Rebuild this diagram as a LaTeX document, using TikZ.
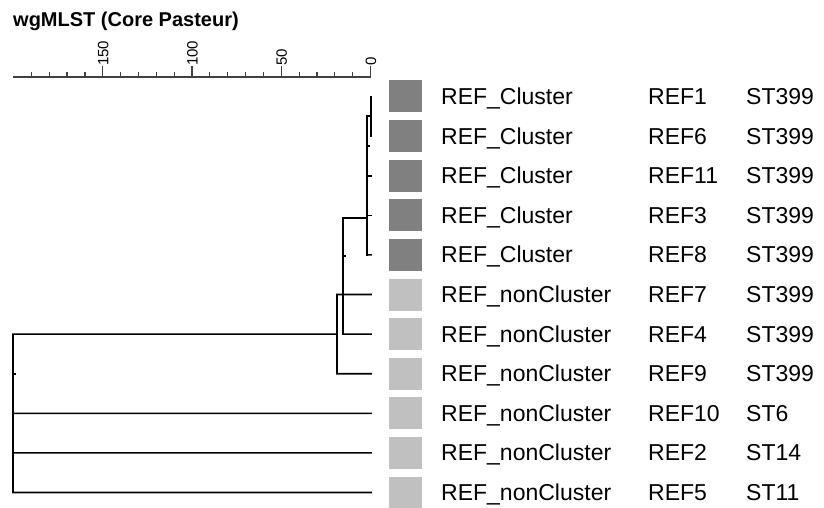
\documentclass[tikz,border=0pt]{standalone}
\usepackage{fontspec}
\setmainfont{Liberation Sans}
\definecolor{clusterdark}{HTML}{808080}
\definecolor{clusterlight}{HTML}{C0C0C0}
\tikzset{
  branch/.style={line width=1.6pt, draw=black, line cap=rect},
  axisline/.style={line width=1.2pt, draw=black!75},
  swatch/.style={minimum width=33pt, minimum height=32pt, inner sep=0pt, draw=none},
  rowtext/.style={anchor=base west, inner sep=0pt, font=\fontsize{23}{23}\selectfont},
  ticklabel/.style={anchor=west, rotate=90, inner sep=0pt, font=\fontsize{15}{15}\selectfont},
}
\begin{document}
\begin{tikzpicture}[x=1pt, y=-1pt]
\useasboundingbox (0,0) rectangle (824,508);

% title
\node[anchor=base west, inner sep=0pt, font=\bfseries\fontsize{20}{20}\selectfont] (title) at (13,27) {wgMLST (Core Pasteur)};

% distance scale
\coordinate (axL) at (13,77);
\coordinate (axR) at (371,77);
\draw[axisline] (axL) -- (axR);
\foreach \d in {10,20,30,40,60,70,80,90,110,120,130,140,160,170,180,190}{
  \draw[axisline] ({370.5-1.785*\d},77) -- ++(0,-5);
}
\foreach \d in {0,50,100,150}{
  \draw[axisline] ({370.5-1.785*\d},77) -- ++(0,-11);
  \node[ticklabel] (tl\d) at ({370.5-1.785*\d+0.5},66) {\d};
}

% rows: swatch colour, group, key, sequence type
\foreach \i/\c/\g/\k/\s in {
  0/clusterdark/REF\_Cluster/REF1/ST399,
  1/clusterdark/REF\_Cluster/REF6/ST399,
  2/clusterdark/REF\_Cluster/REF11/ST399,
  3/clusterdark/REF\_Cluster/REF3/ST399,
  4/clusterdark/REF\_Cluster/REF8/ST399,
  5/clusterlight/REF\_nonCluster/REF7/ST399,
  6/clusterlight/REF\_nonCluster/REF4/ST399,
  7/clusterlight/REF\_nonCluster/REF9/ST399,
  8/clusterlight/REF\_nonCluster/REF10/ST6,
  9/clusterlight/REF\_nonCluster/REF2/ST14,
  10/clusterlight/REF\_nonCluster/REF5/ST11}{
  \pgfmathsetmacro{\ry}{96.5+39.6*\i}
  \coordinate (L\i) at (371,\ry);
  \node[swatch, fill=\c] (sw\i) at (405.5,\ry) {};
  \node[rowtext] (grp\i) at (441,\ry+8) {\g};
  \node[rowtext] (key\i) at (648,\ry+8) {\k};
  \node[rowtext] (st\i) at (746,\ry+8) {\s};
}

% internal nodes of the dendrogram
\coordinate (a1) at (371,96.5);   % REF1 / REF6
\coordinate (a2) at (371,136.1);
\coordinate (n1) at (367,116.3);
\coordinate (n1b) at (367,254.9);
\coordinate (n1j) at (367,218);
\coordinate (n2) at (343,218);
\coordinate (n2b) at (343,334.1);
\coordinate (n3t) at (337,294.5);
\coordinate (n3) at (337,334.1);
\coordinate (n3b) at (337,373.7);
\coordinate (r0) at (13,334.1);
\coordinate (r1) at (13,492.5);
\coordinate (r8) at (13,413.3);
\coordinate (r9) at (13,452.9);

% REF1..REF8 subtree
\draw[branch] (a1) -- (a2);
\draw[branch] (n1) -- (a1 |- n1);
\draw[branch] (n1) -- (n1b);
\draw[branch] (n1 |- L2) -- (L2);
\draw[branch] (n1 |- L3) -- (L3);
\draw[branch] (n1b) -- (L4);
\draw[branch] (367,146) -- (369,146);
% joins with REF4, REF7, REF9
\draw[branch] (n1j) -- (n2) -- (n2b) -- (L6);
\draw[branch] (343,256) -- (345,256);
\draw[branch] (L5) -- (n3t) -- (n3b) -- (L7);
% root
\draw[branch] (n3) -- (r0) -- (r1) -- (L10);
\draw[branch] (r8) -- (L8);
\draw[branch] (r9) -- (L9);
\draw[branch] (13,373.7) -- (15,373.7);
\end{tikzpicture}
\end{document}
